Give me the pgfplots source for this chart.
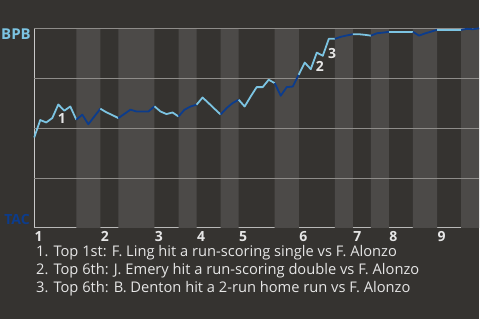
\documentclass[border=0pt]{standalone}
\usepackage{pgfplots}
\pgfplotsset{compat=1.18}
\usepackage{fontspec}
\setmainfont{Open Sans}

\definecolor{bg}{HTML}{353330}
\definecolor{band}{HTML}{4C4A48}
\definecolor{gridc}{HTML}{8E8C89}
\definecolor{axisline}{HTML}{C8C8C8}
\definecolor{bpbblue}{RGB}{124,196,226}
\definecolor{tacblue}{RGB}{12,60,140}
\definecolor{txt}{HTML}{E6E6E6}

\begin{document}
\begin{tikzpicture}
\fill[bg] (0,0) rectangle (480pt,320pt);
\begin{axis}[
  at={(34.3pt,91.7pt)}, anchor=south west,
  width=445.7pt, height=200pt, scale only axis,
  xmin=0, xmax=74, ymin=0, ymax=100,
  clip=false,
  axis x line*=bottom, axis y line*=left,
  axis line style={draw=axisline, line width=1pt},
  ytick=\empty,
  major tick length=0pt,
  xtick={0,11,20,27,34,44,53,59,67},
  xticklabels={1,2,3,4,5,6,7,8,9},
  xticklabel style={anchor=north west, inner sep=0pt, xshift=0.3pt, yshift=-3.4pt,
    font=\bfseries\fontsize{14}{14}\selectfont, text=txt},
  wpTop/.style={draw=bpbblue, color=bpbblue, line width=1.8pt, line join=round, mark=none},
  wpBot/.style={draw=tacblue, color=tacblue, line width=1.8pt, line join=round, mark=none},
]
% shaded strips for the bottom halves of the innings
\addplot[const plot, fill=band, draw=none] coordinates {
  (0,0) (7,100) (11,0) (14,100) (20,0) (24,100) (27,0) (31,100) (34,0)
  (40,100) (44,0) (50,100) (53,0) (56,100) (59,0) (63,100) (67,0) (71,100) (74,100)
} \closedcycle;

% horizontal reference lines
\addplot[gridc, line width=0.9pt] coordinates {(0,25) (74,25)};
\addplot[gridc, line width=0.9pt] coordinates {(0,50) (74,50)};
\addplot[gridc, line width=0.9pt] coordinates {(0,75) (74,75)};
\addplot[gridc, line width=0.9pt] coordinates {(0,100) (74,100)};

% BPB win probability after each play, one piece per half-inning
% inning 1
\addplot[wpTop] coordinates {(0,45.3) (1,54.0) (2,52.8) (3,55.0) (4,61.8) (5,58.7) (6,60.8) (7,54.2)};
\addplot[wpBot] coordinates {(7,54.2) (8,56.7) (9,51.9) (10,55.8) (11,59.7)};
% inning 2
\addplot[wpTop] coordinates {(11,59.7) (12,57.9) (13,56.5) (14,55.0)};
\addplot[wpBot] coordinates {(14,55.0) (15,57.1) (16,59.2) (17,58.3) (18,58.3) (19,58.3) (20,60.9)};
% inning 3
\addplot[wpTop] coordinates {(20,60.9) (21,58.3) (22,57.0) (23,57.8) (24,55.8)};
\addplot[wpBot] coordinates {(24,55.8) (25,59.2) (26,60.8) (27,61.7)};
% inning 4
\addplot[wpTop] coordinates {(27,61.7) (28,65.3) (29,62.5) (30,59.6) (31,56.8)};
\addplot[wpBot] coordinates {(31,56.8) (32,60.0) (33,62.5) (34,64.2)};
% inning 5
\addplot[wpTop] coordinates {(34,64.2) (35,60.8) (36,65.8) (37,70.5) (38,70.5) (39,74.2) (40,72.5)};
\addplot[wpBot] coordinates {(40,72.5) (41,66.2) (42,70.5) (43,70.8) (44,76.7)};
% inning 6
\addplot[wpTop] coordinates {(44,76.7) (45,82.8) (46,79.5) (47,87.8) (48,86.2) (49,94.7) (50,94.7)};
\addplot[wpBot] coordinates {(50,94.7) (51,95.7) (52,96.4) (53,97.0)};
% inning 7
\addplot[wpTop] coordinates {(53,97.0) (54,97.0) (55,96.7) (56,96.3)};
\addplot[wpBot] coordinates {(56,96.3) (57,97.5) (58,97.8) (59,98.2)};
% inning 8
\addplot[wpTop] coordinates {(59,98.2) (60,98.2) (61,98.2) (62,98.2) (63,98.2)};
\addplot[wpBot] coordinates {(63,98.2) (64,96.3) (65,97.4) (66,98.3) (67,99.2)};
% inning 9
\addplot[wpTop] coordinates {(67,99.2) (68,99.2) (69,99.2) (70,99.2) (71,99.2)};
\addplot[wpBot] coordinates {(71,99.2) (72,99.7) (73,99.5) (74,100)};

\node[anchor=north, inner sep=0pt, xshift=3.6pt, yshift=-8.6pt, text=txt,
  font=\bfseries\fontsize{14}{14}\selectfont] at (axis cs:4,61.8) {1};
\node[anchor=north, inner sep=0pt, xshift=3.2pt, yshift=-8.4pt, text=txt,
  font=\bfseries\fontsize{14}{14}\selectfont] at (axis cs:47,87.8) {2};
\node[anchor=north, inner sep=0pt, xshift=3.2pt, yshift=-9pt, text=txt,
  font=\bfseries\fontsize{14}{14}\selectfont] at (axis cs:49,94.7) {3};

\node[anchor=north east, inner sep=0pt, xshift=-3.3pt, text=bpbblue,
  font=\bfseries\fontsize{15}{15}\selectfont] at (rel axis cs:0,1) {BPB};
\node[anchor=south east, inner sep=0pt, xshift=-4.3pt, yshift=3.3pt, text=tacblue,
  font=\bfseries\fontsize{14}{14}\selectfont] at (rel axis cs:0,0) {TAC};
\end{axis}

\begin{scope}[every node/.style={anchor=base west, inner sep=0pt, text=txt,
    font=\fontsize{14.7}{14.7}\selectfont}]
\node at (36pt,62.7pt) {1. Top 1st: F. Ling hit a run-scoring single vs F. Alonzo};
\node at (36pt,44.7pt) {2. Top 6th: J. Emery hit a run-scoring double vs F. Alonzo};
\node at (36pt,26.7pt) {3. Top 6th: B. Denton hit a 2-run home run vs F. Alonzo};
\end{scope}
\useasboundingbox (0,0) rectangle (480pt,320pt);
\end{tikzpicture}
\end{document}
